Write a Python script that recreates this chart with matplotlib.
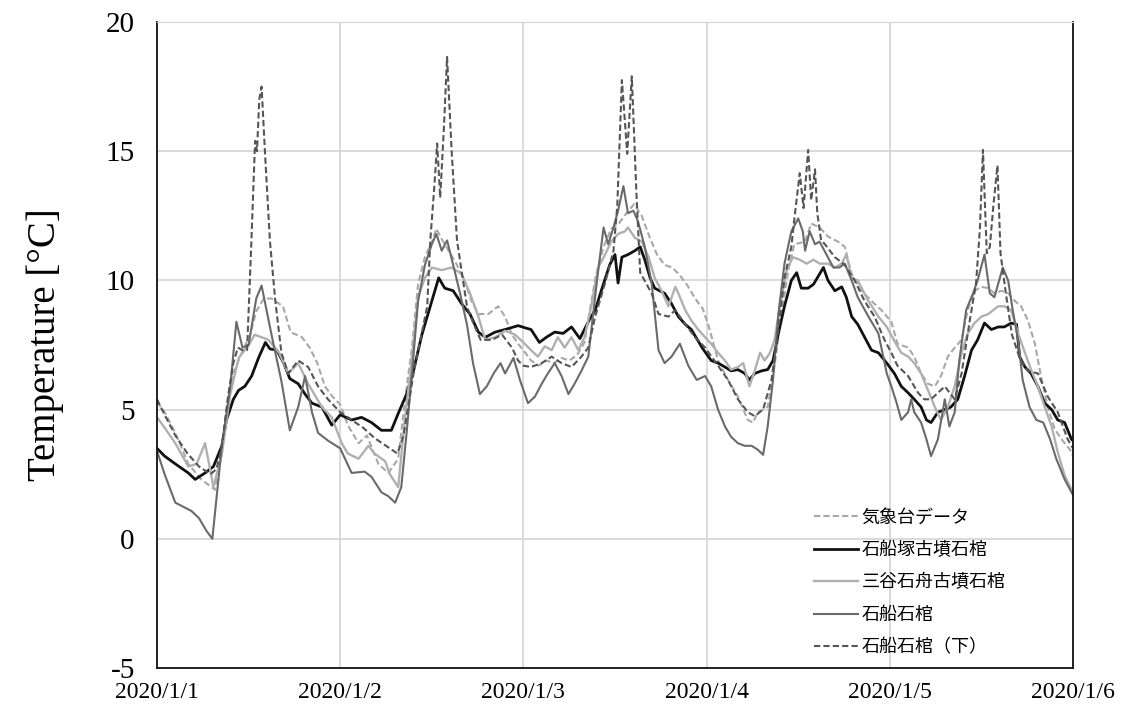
import numpy as np
import matplotlib
matplotlib.use('Agg')
import matplotlib.pyplot as plt

plt.rcParams['axes.unicode_minus'] = False

# hours since 2020/1/1 00:00, temperature [degC]
kishoudai = [(0, 5.3), (1, 4.9), (2.4, 4.1), (4.1, 2.9), (5.8, 2.3), (7.6, 1.9), (8.5, 3.3), (9.1, 4.9), (10, 6.4),
             (11.1, 7.2), (12.2, 7.9), (13, 8.8), (14, 9.3), (15, 9.3), (16.5, 9.0), (17.5, 8.0), (19, 7.8), (20, 7.4),
             (21, 6.8), (22, 5.9), (23, 5.5), (24, 5.2),
             (25, 4.4), (26.4, 3.7), (27.5, 4.0), (29, 2.9), (30.3, 2.55), (31.6, 3.1), (32.5, 5.4), (33.4, 7.4),
             (34.2, 9.85), (35.1, 10.9), (36, 11.5), (36.6, 12.0), (37.3, 11.6), (38.2, 11.15), (39.3, 10.6),
             (40.4, 9.9), (41.2, 9.2), (42.1, 8.7), (43.4, 8.7), (44.7, 9.0), (45.6, 8.6), (46.5, 7.9), (47.3, 7.55),
             (48, 7.3),
             (49, 6.9), (50, 6.7), (51, 6.9), (52, 6.8), (53, 7.0), (54, 6.9), (55, 7.1), (56, 7.6), (56.8, 9.0),
             (57.5, 10.2), (58.5, 11.3), (59.5, 12.0), (60.5, 12.2), (61.5, 12.6), (62.5, 12.95), (63.5, 12.5),
             (64.5, 11.7), (65.5, 11.0), (66.5, 10.6), (67.5, 10.5), (68.5, 10.2), (69.5, 9.8), (70.5, 9.3),
             (71.5, 8.9), (72.3, 8.2),
             (73.5, 6.9), (74.8, 6.15), (76.1, 5.5), (77.4, 4.6), (78.1, 4.5), (78.7, 4.9), (80, 5.1), (80.9, 6.7),
             (81.8, 8.7), (82.7, 10.4), (83.5, 11.4), (84.9, 11.5), (85.7, 12.2), (86.8, 12.05), (87.9, 11.7),
             (89.2, 11.5), (90.1, 11.3), (91, 10.25), (92.3, 9.6), (93.6, 9.2), (94.9, 8.85), (96.2, 8.4),
             (97, 7.55), (98.4, 7.4), (99.2, 7.05), (100.1, 6.4), (101, 6.0), (101.9, 5.9), (102.7, 6.3),
             (103.6, 7.05), (104.5, 7.4), (105.4, 7.7), (106.2, 8.85), (107.1, 9.6), (108, 9.75), (108.9, 9.7),
             (109.7, 9.5), (110.6, 9.6), (111.5, 9.5), (112.4, 9.2), (113.2, 9.0), (114.1, 8.45), (115, 7.55),
             (115.8, 6.3), (116.7, 5.1), (117.6, 4.25), (118.5, 3.85), (119.6, 3.45), (120, 3.2)]

ishibunezuka = [(0, 3.5), (1, 3.2), (2.4, 2.9), (4.1, 2.55), (5, 2.3), (6.3, 2.55), (7.4, 2.8), (8.5, 3.6),
                (9.1, 4.6), (10, 5.4), (10.7, 5.75), (11.5, 5.9), (12.4, 6.3), (13.3, 7.0), (14.2, 7.6),
                (14.8, 7.35), (15.7, 7.3), (16.6, 6.8), (17.4, 6.2), (18.5, 6.0), (19.4, 5.6), (20.3, 5.25),
                (21.6, 5.1), (22.9, 4.4), (24, 4.8),
                (25.5, 4.6), (26.8, 4.7), (28.1, 4.5), (29.4, 4.2), (30.7, 4.2), (31.6, 4.85), (32.7, 5.6),
                (33.6, 6.5), (34.7, 7.9), (35.8, 9.0), (36.9, 10.1), (37.7, 9.7), (38.8, 9.6), (39.9, 9.1),
                (41, 8.7), (42.1, 8.0), (43, 7.8), (44.3, 8.0), (45.6, 8.1), (47.3, 8.25), (48.4, 8.15),
                (49, 8.1), (50.1, 7.6), (51, 7.8), (52.1, 8.0), (53.2, 7.95), (54.3, 8.2), (55.4, 7.75),
                (56.5, 8.4), (57.4, 8.85), (58.2, 9.6), (59.3, 10.6), (60, 11.0), (60.4, 9.9), (60.9, 10.9),
                (61.7, 11.0), (62.6, 11.15), (63.3, 11.3), (63.9, 10.8), (64.6, 10.1), (65.2, 9.7), (66.5, 9.5),
                (67.4, 9.1), (68.3, 8.6), (69.2, 8.3), (70, 8.1), (71.4, 7.4),
                (72.6, 6.9), (73.5, 6.8), (74.4, 6.65), (75.2, 6.5), (76.1, 6.55), (77, 6.4), (77.6, 6.15),
                (78.3, 6.4), (79.2, 6.5), (80, 6.55), (80.7, 6.9), (81.4, 7.95), (82.2, 9.0), (83.1, 10.0),
                (83.8, 10.3), (84.4, 9.7), (85.3, 9.7), (86, 9.85), (86.8, 10.25), (87.3, 10.5), (87.9, 10.0),
                (88.8, 9.6), (89.7, 9.75), (90.3, 9.35), (91, 8.6), (91.8, 8.3), (92.7, 7.8), (93.6, 7.3),
                (94.5, 7.2), (95.6, 6.8),
                (96.6, 6.4), (97.5, 5.9), (98.4, 5.65), (99.2, 5.4), (100.1, 5.1), (100.8, 4.6), (101.4, 4.5),
                (102.3, 4.9), (103.2, 5.0), (104, 5.1), (104.9, 5.4), (105.8, 6.3), (106.7, 7.3), (107.5, 7.7),
                (108.4, 8.35), (109.3, 8.1), (110.2, 8.2), (111, 8.2), (111.9, 8.35), (112.6, 8.3), (113, 7.05),
                (113.7, 6.65), (114.5, 6.4), (115.4, 5.9), (116.3, 5.25), (117.2, 5.0), (118, 4.6), (118.9, 4.5),
                (119.8, 3.85), (120, 3.8)]

mitani = [(0, 4.7), (1, 4.3), (2.4, 3.7), (4.1, 2.8), (5.2, 2.9), (6.3, 3.7), (7.4, 2.0), (8.5, 3.3), (9.6, 5.6),
          (10.7, 7.0), (12, 7.5), (12.8, 7.9), (14.6, 7.7), (16, 7.2), (17.2, 6.4), (18.5, 6.8), (19.8, 6.0),
          (21.6, 5.1), (22.9, 4.7), (24.2, 3.7),
          (25, 3.3), (26.4, 3.1), (27.7, 3.6), (28.5, 3.3), (29.9, 3.0), (30.5, 2.5), (31.6, 2.0), (32.5, 4.7),
          (33.4, 7.0), (34.2, 9.35), (35.1, 10.1), (36, 10.5), (37.3, 10.4), (38.6, 10.5), (39.9, 10.25),
          (41, 9.5), (42.1, 8.6), (43, 7.7), (44.3, 7.8), (45.6, 8.05), (46.9, 7.9), (48, 7.6),
          (49, 7.3), (49.9, 7.05), (50.8, 7.45), (51.7, 7.3), (52.5, 7.8), (53.4, 7.4), (54.3, 7.8), (55.2, 7.3),
          (56, 7.8), (56.9, 9.0), (57.8, 10.5), (58.7, 11.0), (59.5, 11.5), (60.4, 11.8), (61.3, 11.9),
          (61.7, 12.05), (62.6, 11.65), (63.5, 11.5), (64.4, 10.9), (65.2, 10.1), (66.1, 9.6), (67, 9.0),
          (67.9, 9.75), (68.3, 9.5), (69.2, 8.85), (70, 8.45), (70.9, 8.1), (71.8, 7.8),
          (72.6, 7.55), (73.5, 7.2), (74.4, 6.9), (75.2, 6.55), (76.1, 6.65), (76.8, 6.8), (77.6, 5.9),
          (78.3, 6.5), (79, 7.2), (79.6, 6.9), (80.3, 7.2), (80.9, 7.7), (81.6, 9.0), (82.5, 10.4), (83.3, 10.9),
          (84.2, 10.8), (85.1, 10.65), (86, 10.8), (86.8, 10.65), (87.9, 10.65), (88.8, 10.5), (89.7, 10.65),
          (90.3, 11.0), (91, 10.1), (91.8, 10.0), (93.2, 9.2), (94.5, 8.6), (95.6, 8.2),
          (96.7, 7.6), (97.5, 7.2), (98.4, 7.05), (99.2, 6.8), (100.1, 6.4), (101, 5.75), (101.9, 5.1),
          (102.7, 4.6), (103.6, 5.1), (104.5, 5.9), (105.4, 7.2), (106.2, 7.95), (107.1, 8.35), (108, 8.6),
          (108.9, 8.7), (110.2, 9.0), (111, 9.0), (111.9, 8.85), (112.8, 7.95), (113.7, 7.2), (114.5, 6.55),
          (115.4, 5.9), (116.3, 5.1), (117.2, 4.35), (118, 3.35), (118.9, 2.45), (119.8, 1.9), (120, 1.75)]

ishibune = [(0, 3.4), (1, 2.5), (2.4, 1.4), (4.5, 1.08), (5.5, 0.8), (6.5, 0.3), (7.25, 0.0), (8.5, 3.6),
            (9.6, 5.9), (10.4, 8.4), (11.2, 7.4), (12, 7.5), (13, 9.3), (13.7, 9.8), (15, 7.9), (16.3, 6.1),
            (17.4, 4.2), (18.5, 5.1), (19.4, 6.3), (20.3, 4.9), (21.1, 4.1), (22.4, 3.8), (24, 3.5),
            (25.5, 2.55), (27.2, 2.6), (28.1, 2.4), (29.4, 1.8), (30.3, 1.65), (31.2, 1.4), (32, 2.0), (32.7, 4.1),
            (33.4, 6.4), (34.2, 9.2), (35.1, 10.6), (36, 11.4), (36.6, 11.8), (37.3, 11.15), (38, 11.55),
            (38.8, 10.6), (39.7, 9.5), (40.6, 8.3), (41.4, 6.8), (42.3, 5.6), (43.2, 5.9), (44.1, 6.4), (45, 6.8),
            (45.6, 6.4), (46.7, 7.0), (47.6, 6.1),
            (48.6, 5.25), (49.5, 5.5), (50.4, 6.0), (51.2, 6.4), (52.1, 6.8), (53, 6.3), (53.9, 5.6), (54.7, 6.0),
            (55.6, 6.5), (56.5, 7.05), (57.6, 9.9), (58.5, 12.05), (59.1, 11.4), (59.8, 12.05), (60.4, 12.7),
            (61.1, 13.65), (61.7, 12.6), (62.4, 12.7), (63, 12.3), (63.9, 11.3), (64.8, 9.9), (65.7, 7.3),
            (66.5, 6.8), (67.4, 7.05), (68.5, 7.55), (69.6, 6.7), (70.7, 6.15), (71.8, 6.3),
            (72.6, 5.9), (73.5, 5.0), (74.4, 4.35), (75.2, 3.95), (76.1, 3.7), (77, 3.6), (77.9, 3.6),
            (78.7, 3.45), (79.4, 3.25), (80, 4.35), (80.7, 6.15), (81.4, 8.7), (82.2, 10.65), (83.1, 11.9),
            (84, 12.4), (84.6, 11.9), (84.9, 11.15), (85.5, 11.9), (86.2, 11.4), (86.8, 11.5), (87.7, 11.0),
            (88.6, 10.5), (89.4, 10.5), (90.1, 10.65), (91, 10.0), (91.8, 9.35), (93.2, 8.6), (94.5, 7.95),
            (95.6, 6.4), (96.2, 5.9),
            (96.9, 5.25), (97.5, 4.6), (98.4, 4.9), (98.8, 5.4), (99.2, 4.9), (100.1, 4.5), (100.8, 3.85),
            (101.4, 3.2), (102.3, 3.85), (103.2, 5.4), (103.8, 4.35), (104.5, 4.9), (105.1, 6.9), (106, 8.85),
            (106.9, 9.5), (107.5, 10.0), (108.4, 11.0), (109.1, 9.5), (109.7, 9.35), (110.8, 10.5), (111.5, 10.0),
            (112.1, 8.85), (112.8, 7.7), (113.4, 6.15), (114.3, 5.1), (115.2, 4.6), (116.1, 4.5), (117, 3.85),
            (117.8, 3.1), (118.9, 2.3), (119.8, 1.8), (120, 1.7)]

ishibune_shita = [(0, 5.4), (1, 4.8), (2.4, 4.0), (4, 3.3), (5.5, 2.8), (7, 2.5), (7.8, 2.7), (8.5, 3.6),
                  (9.3, 5.5), (10, 6.8), (10.6, 7.4), (11.2, 7.3), (11.8, 7.3), (12.3, 11.0), (12.85, 15.4),
                  (13.1, 15.0), (13.4, 17.0), (13.7, 17.5), (14.2, 14.65), (14.8, 11.5), (15.5, 9.2), (16.3, 7.2),
                  (17.2, 6.4), (18.5, 6.9), (19.8, 6.65), (21.1, 5.9), (22.4, 5.4), (24, 4.9),
                  (25.5, 4.6), (27, 4.3), (28.5, 3.9), (30, 3.6), (31.5, 3.3), (32.3, 4.0), (32.9, 5.1),
                  (33.6, 6.4), (34.5, 7.7), (35.4, 9.0), (35.8, 11.55), (36.3, 13.5), (36.7, 15.3), (37.1, 13.2),
                  (37.6, 16.0), (38.0, 18.65), (38.6, 15.0), (39.3, 11.55), (40.6, 9.0), (41.5, 8.3), (42.4, 7.7),
                  (43.9, 7.7), (45.2, 7.9), (46.5, 7.4), (47.3, 6.9), (48, 6.7),
                  (49, 6.65), (50.4, 6.8), (51.7, 7.05), (53, 6.8), (54.3, 6.65), (55.6, 7.05), (56.5, 7.4),
                  (57.4, 8.6), (58.7, 9.9), (59.8, 11.15), (60.3, 12.9), (60.9, 17.75), (61.6, 14.9),
                  (62.2, 17.9), (62.8, 13.4), (63.3, 10.3), (64.8, 9.5), (65.7, 8.7), (67, 8.6), (67.9, 8.85),
                  (69.2, 8.3), (70.5, 7.8), (71.8, 7.4),
                  (73.5, 6.7), (74.8, 6.15), (76.1, 5.4), (77.4, 4.9), (78.3, 4.75), (79.4, 5.0), (80.5, 6.15),
                  (81.4, 8.1), (82.2, 10.1), (83.1, 11.3), (83.5, 12.4), (84.2, 14.15), (84.7, 12.8),
                  (85.3, 15.05), (85.7, 13.1), (86.2, 14.3), (86.5, 12.6), (87.0, 11.55), (87.5, 11.4),
                  (88.8, 10.9), (90.1, 10.6), (91.4, 10.0), (92.7, 9.2), (94, 8.6), (95.3, 7.7), (96.2, 7.2),
                  (97, 6.7), (98.4, 6.3), (99.7, 5.65), (100.5, 5.4), (101.4, 5.4), (102.3, 5.65), (103.2, 5.9),
                  (104.5, 5.4), (105.4, 6.4), (106.5, 8.5), (107.3, 9.9), (107.8, 12.0), (108.2, 15.05),
                  (108.7, 11.05), (109.1, 11.3), (109.6, 13.0), (110.1, 14.45), (110.5, 11.05), (111.2, 9.5),
                  (112, 7.9), (113, 7.0), (114.1, 6.5), (115.4, 6.4), (116.7, 5.5), (118, 4.9), (119.3, 3.85),
                  (120, 3.5)]

labels = ['気象台データ', '石船塚古墳石棺', '三谷石舟古墳石棺', '石船石棺', '石船石棺（下）']
day_labels = ['2020/1/1', '2020/1/2', '2020/1/3', '2020/1/4', '2020/1/5', '2020/1/6']
y_ticks = [-5, 0, 5, 10, 15, 20]

styles = [
    dict(color='#a8a8a8', lw=1.5, ls=(0, (3, 1.5))),
    dict(color='#111111', lw=2.0, ls='-'),
    dict(color='#b0b0b0', lw=1.7, ls='-'),
    dict(color='#6a6a6a', lw=1.5, ls='-'),
    dict(color='#555555', lw=1.5, ls=(0, (3, 1.5))),
]

fig = plt.figure(figsize=(11.23, 7.15), dpi=100)
ax = fig.add_axes([0.1398, 0.0657, 0.8157, 0.9035])

series = [kishoudai, ishibunezuka, mitani, ishibune, ishibune_shita]
for data, lab, st in zip(series, labels, styles):
    arr = np.array(data)
    ax.plot(arr[:, 0] / 24.0, arr[:, 1], label=lab, color=st['color'], lw=st['lw'], ls=st['ls'])

ax.set_xlim(0, 5)
ax.set_ylim(-5, 20)
ax.set_xticks(range(6))
ax.set_xticklabels(day_labels, family='Liberation Serif', fontsize=17)
ax.set_yticks(y_ticks)
ax.set_yticklabels([str(v) for v in y_ticks], family='Liberation Serif', fontsize=21)
ax.tick_params(axis='both', length=0)
ax.tick_params(axis='y', pad=16)
ax.tick_params(axis='x', pad=10)
ax.grid(True, color='#d4d4d4', lw=1.2)
ax.set_axisbelow(True)
for s in ['left', 'bottom', 'right']:
    ax.spines[s].set_color('#111111')
    ax.spines[s].set_linewidth(1.3)
ax.spines['top'].set_color('#d4d4d4')

ax.set_ylabel('Temperature [°C]', family='Liberation Serif', fontsize=28, labelpad=30)

leg = ax.legend(loc='upper left', bbox_to_anchor=(0.70, 0.272), frameon=False,
                prop={'family': ['Noto Sans CJK JP', 'DejaVu Sans'], 'size': 13},
                handlelength=2.4, handletextpad=0.2, labelspacing=0.8)

fig.savefig('out.png', dpi=100)
